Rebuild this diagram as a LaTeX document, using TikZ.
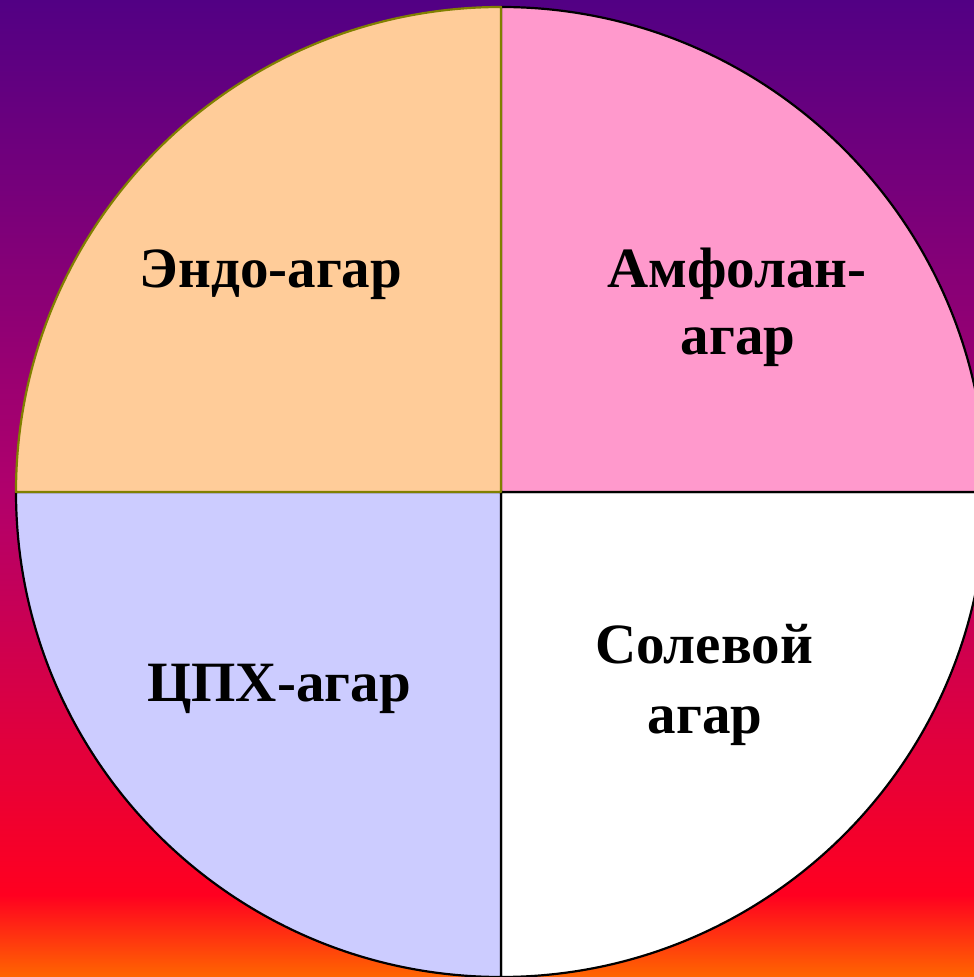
\documentclass[tikz,border=0pt]{standalone}
\usepackage{fontspec}
\setmainfont{Liberation Serif}
\definecolor{bgor}{HTML}{FF6600}
\definecolor{bgred}{HTML}{FF0020}
\definecolor{bgmag}{HTML}{B0006C}
\definecolor{bgpur}{HTML}{520084}
\definecolor{qtl}{HTML}{FFCC99}
\definecolor{qtr}{HTML}{FF99CC}
\definecolor{qbl}{HTML}{CCCCFF}
\definecolor{qbr}{HTML}{FFFFFF}
\definecolor{olivel}{HTML}{808000}
\pgfdeclareverticalshading{bgshade}{100bp}{color(0bp)=(bgor); color(25bp)=(bgor); color(29.2bp)=(bgred); color(49.9bp)=(bgmag); color(75bp)=(bgpur); color(100bp)=(bgpur)}
\begin{document}
\begin{tikzpicture}[x=1pt,y=1pt,
  sector/.style={line width=2.2pt, line join=round},
  lbl/.style={font=\bfseries\fontsize{57}{68}\selectfont, anchor=base, inner sep=0pt}]
\useasboundingbox (0,0) rectangle (974,977);
\clip (0,0) rectangle (974,977);
\fill[shading=bgshade] (0,0) rectangle (974,977);
\coordinate (c) at (501,485);
\filldraw[fill=qbr, draw=black, sector] (c) -- ++(0,-485) arc[start angle=270, end angle=360, radius=485] -- cycle;
\filldraw[fill=qbl, draw=black, sector] (c) -- ++(-485,0) arc[start angle=180, end angle=270, radius=485] -- cycle;
\filldraw[fill=qtr, draw=black, sector] (c) -- ++(485,0) arc[start angle=0, end angle=90, radius=485] -- cycle;
\filldraw[fill=qtl, draw=olivel, sector] (c) -- ++(0,485) arc[start angle=90, end angle=180, radius=485] -- cycle;
\node[lbl] (endo) at (271,689) {Эндо-агар};
\node[lbl] (amf1) at (737,689) {Амфолан-};
\node[lbl] (amf2) at (738,622) {агар};
\node[lbl] (cph) at (279,275) {ЦПХ-агар};
\node[lbl] (sol1) at (704,313) {Солевой};
\node[lbl] (sol2) at (705,243) {агар};
\end{tikzpicture}
\end{document}
